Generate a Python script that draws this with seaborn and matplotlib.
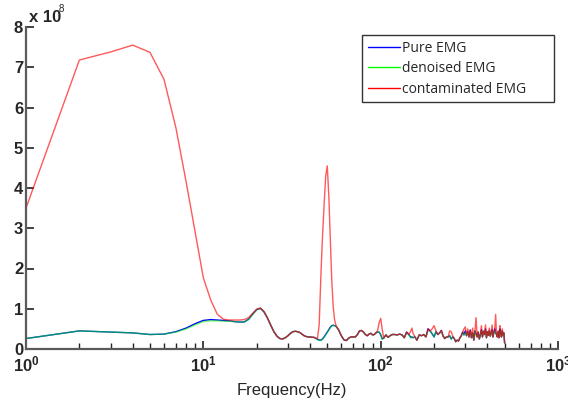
import matplotlib
matplotlib.use("Agg")
import matplotlib.pyplot as plt
import seaborn as sns

# ── Data (power spectrum, units of 1e8) ─────────────────────────────────────
freq = [
    1, 2, 3, 4, 5, 6, 7, 8, 9, 10,
    11, 12, 13, 14, 15, 16, 17, 18, 19, 20,
    21, 22, 23, 24, 25, 26, 27, 28, 29, 30,
    31, 32, 33, 34, 35, 36, 37, 38, 39, 40,
    41, 42, 43, 44, 45, 46, 47, 48, 49, 50,
    51, 52, 53, 54, 55, 56, 57, 58, 59, 60,
    62, 64, 66, 68, 70, 72, 74, 76, 78, 80,
    82, 84, 86, 88, 90, 92, 94, 96, 98, 100,
    102, 104, 107, 110, 113, 116, 120, 124, 128, 132,
    136, 140, 144, 148, 150, 152, 156, 160, 165, 170,
    175, 180, 185, 190, 195, 200, 205, 210, 215, 220,
    225, 230, 235, 240, 245, 250, 255, 260, 265, 270,
    275, 280, 285, 290, 295, 300, 305, 310, 315, 320,
    325, 330, 335, 340, 345, 350, 355, 360, 365, 370,
    375, 380, 385, 390, 395, 400, 405, 410, 415, 420,
    425, 430, 435, 440, 445, 450, 455, 460, 465, 470,
    475, 480, 485, 490, 495, 500,
]

pure_emg = [
    0.26, 0.45, 0.42, 0.40, 0.36, 0.37, 0.43, 0.52, 0.63, 0.71,
    0.73, 0.72, 0.71, 0.70, 0.68, 0.67, 0.67, 0.74, 0.87, 0.98,
    1.01, 0.92, 0.77, 0.59, 0.43, 0.32, 0.26, 0.25, 0.28, 0.33,
    0.39, 0.43, 0.44, 0.43, 0.41, 0.37, 0.33, 0.31, 0.30, 0.30,
    0.29, 0.29, 0.27, 0.24, 0.22, 0.22, 0.25, 0.30, 0.36, 0.42,
    0.48, 0.54, 0.58, 0.59, 0.58, 0.56, 0.52, 0.47, 0.40, 0.33,
    0.23, 0.21, 0.27, 0.30, 0.30, 0.30, 0.36, 0.45, 0.46, 0.42,
    0.36, 0.33, 0.37, 0.39, 0.35, 0.36, 0.40, 0.42, 0.42, 0.36,
    0.25, 0.27, 0.35, 0.29, 0.33, 0.36, 0.36, 0.35, 0.37, 0.35,
    0.28, 0.42, 0.36, 0.29, 0.30, 0.28, 0.30, 0.22, 0.35, 0.33,
    0.36, 0.30, 0.50, 0.45, 0.38, 0.30, 0.43, 0.36, 0.40, 0.46,
    0.32, 0.26, 0.30, 0.30, 0.33, 0.25, 0.30, 0.26, 0.18, 0.22,
    0.20, 0.28, 0.33, 0.42, 0.35, 0.45, 0.33, 0.43, 0.30, 0.47,
    0.28, 0.40, 0.22, 0.45, 0.38, 0.30, 0.42, 0.25, 0.35, 0.48,
    0.30, 0.44, 0.36, 0.50, 0.28, 0.43, 0.34, 0.46, 0.32, 0.40,
    0.48, 0.30, 0.42, 0.50, 0.40, 0.36, 0.30, 0.44, 0.28, 0.50,
    0.38, 0.30, 0.45, 0.35, 0.40, 0.15,
]

denoised_emg = [
    0.26, 0.45, 0.42, 0.40, 0.36, 0.37, 0.42, 0.50, 0.60, 0.68,
    0.70, 0.70, 0.69, 0.69, 0.68, 0.67, 0.67, 0.73, 0.85, 0.97,
    1.01, 0.92, 0.77, 0.59, 0.43, 0.32, 0.26, 0.25, 0.28, 0.33,
    0.39, 0.43, 0.44, 0.43, 0.41, 0.37, 0.33, 0.31, 0.30, 0.30,
    0.29, 0.29, 0.26, 0.23, 0.21, 0.21, 0.24, 0.29, 0.35, 0.41,
    0.47, 0.53, 0.57, 0.58, 0.58, 0.56, 0.52, 0.47, 0.40, 0.33,
    0.23, 0.21, 0.27, 0.30, 0.30, 0.30, 0.36, 0.45, 0.46, 0.42,
    0.36, 0.33, 0.37, 0.39, 0.35, 0.36, 0.40, 0.42, 0.42, 0.36,
    0.24, 0.27, 0.35, 0.29, 0.33, 0.36, 0.36, 0.35, 0.37, 0.35,
    0.28, 0.40, 0.36, 0.26, 0.30, 0.28, 0.30, 0.22, 0.35, 0.33,
    0.36, 0.30, 0.45, 0.45, 0.38, 0.30, 0.43, 0.36, 0.40, 0.44,
    0.32, 0.26, 0.30, 0.30, 0.33, 0.25, 0.30, 0.26, 0.18, 0.22,
    0.20, 0.28, 0.33, 0.40, 0.35, 0.40, 0.33, 0.43, 0.30, 0.42,
    0.28, 0.40, 0.22, 0.45, 0.33, 0.30, 0.42, 0.25, 0.35, 0.44,
    0.30, 0.44, 0.36, 0.46, 0.28, 0.43, 0.34, 0.46, 0.32, 0.40,
    0.45, 0.30, 0.42, 0.45, 0.40, 0.36, 0.30, 0.44, 0.28, 0.44,
    0.38, 0.30, 0.45, 0.35, 0.40, 0.15,
]

contaminated_emg = [
    3.50, 7.18, 7.38, 7.55, 7.37, 6.70, 5.50, 4.15, 2.90, 1.77,
    1.22, 0.86, 0.74, 0.72, 0.72, 0.72, 0.73, 0.78, 0.89, 0.99,
    1.02, 0.93, 0.77, 0.59, 0.43, 0.32, 0.26, 0.25, 0.28, 0.33,
    0.39, 0.43, 0.44, 0.43, 0.41, 0.37, 0.33, 0.31, 0.30, 0.30,
    0.29, 0.29, 0.27, 0.26, 0.60, 1.80, 2.80, 3.60, 4.30, 4.55,
    3.80, 2.70, 1.70, 1.05, 0.72, 0.58, 0.52, 0.47, 0.40, 0.33,
    0.23, 0.21, 0.27, 0.30, 0.30, 0.30, 0.36, 0.45, 0.46, 0.42,
    0.36, 0.33, 0.37, 0.39, 0.35, 0.36, 0.40, 0.45, 0.65, 0.76,
    0.50, 0.27, 0.35, 0.29, 0.33, 0.36, 0.36, 0.35, 0.37, 0.35,
    0.28, 0.42, 0.36, 0.45, 0.52, 0.40, 0.30, 0.22, 0.35, 0.33,
    0.36, 0.30, 0.50, 0.45, 0.50, 0.58, 0.45, 0.36, 0.40, 0.46,
    0.32, 0.26, 0.30, 0.30, 0.45, 0.43, 0.32, 0.26, 0.18, 0.22,
    0.20, 0.28, 0.33, 0.42, 0.50, 0.55, 0.33, 0.50, 0.30, 0.47,
    0.28, 0.52, 0.22, 0.45, 0.78, 0.30, 0.42, 0.25, 0.35, 0.58,
    0.30, 0.44, 0.36, 0.60, 0.28, 0.43, 0.34, 0.52, 0.32, 0.40,
    0.60, 0.30, 0.42, 0.50, 0.86, 0.36, 0.30, 0.44, 0.28, 0.58,
    0.38, 0.30, 0.50, 0.35, 0.40, 0.15,
]

xtick_vals = [1, 10, 100, 1000]
xtick_labels = [r"$\mathbf{10^{0}}$", r"$\mathbf{10^{1}}$",
                r"$\mathbf{10^{2}}$", r"$\mathbf{10^{3}}$"]
ytick_vals = [0, 1, 2, 3, 4, 5, 6, 7, 8]

# ── Style ───────────────────────────────────────────────────────────────────
sns.set_style("ticks")
plt.rcParams["font.family"] = ["Liberation Sans", "DejaVu Sans"]
plt.rcParams["mathtext.fontset"] = "custom"
plt.rcParams["mathtext.rm"] = "Liberation Sans"
plt.rcParams["mathtext.bf"] = "Liberation Sans:bold"

fig = plt.figure(figsize=(5.68, 4.07), dpi=100)
ax = fig.add_axes([26 / 568, 1 - 349 / 407, (558 - 26) / 568, (349 - 27) / 407])

sns.lineplot(x=freq, y=pure_emg, ax=ax, color="#0000ff", lw=1.0,
             label="Pure EMG")
sns.lineplot(x=freq, y=denoised_emg, ax=ax, color="#00ff00", lw=1.0,
             alpha=0.55, label="denoised EMG")
sns.lineplot(x=freq, y=contaminated_emg, ax=ax, color="#ff0000", lw=1.0,
             alpha=0.65, label="contaminated EMG")

ax.set_xscale("log")
ax.set_xlim(1, 1000)
ax.set_ylim(0, 8)
ax.set_xticks(xtick_vals)
ax.set_xticklabels(xtick_labels, fontsize=12)
ax.set_yticks(ytick_vals)
ax.set_yticklabels([str(v) for v in ytick_vals], fontsize=12,
                   fontweight="bold")

for side in ["top", "right"]:
    ax.spines[side].set_visible(False)
for side in ["left", "bottom"]:
    ax.spines[side].set_color("#5a5a5a")
    ax.spines[side].set_linewidth(1.6)

ax.tick_params(axis="both", which="major", direction="in", length=6,
               width=1.2, color="#222222", pad=4)
ax.tick_params(axis="x", which="minor", direction="in", length=4,
               width=1.0, color="#222222")
ax.tick_params(axis="y", which="major", pad=2)

ax.set_xlabel("Frequency(Hz)", fontsize=12, labelpad=6)
ax.set_ylabel("")

ax.text(0.005, 1.005, r"x 10", transform=ax.transAxes, fontsize=12,
        fontweight="bold", ha="left", va="bottom")
ax.text(0.062, 1.04, "8", transform=ax.transAxes, fontsize=7,
        ha="left", va="bottom")

# legend box spans x 362..554 px, top at y 35 px
leg = ax.legend(loc="upper left", bbox_to_anchor=(0.632, 0.0, 0.361, 0.975),
                mode="expand", borderaxespad=0.0, frameon=True,
                fancybox=False, handlelength=2.3, handletextpad=0.15,
                labelspacing=0.4, borderpad=0.4,
                prop={"family": ["Open Sans", "DejaVu Sans"], "size": 10})
leg.get_frame().set_edgecolor("black")
leg.get_frame().set_linewidth(1.0)
for h in leg.get_lines():
    h.set_alpha(1.0)
    h.set_linewidth(1.0)

fig.savefig("out.png", dpi=100)
plt.close(fig)
